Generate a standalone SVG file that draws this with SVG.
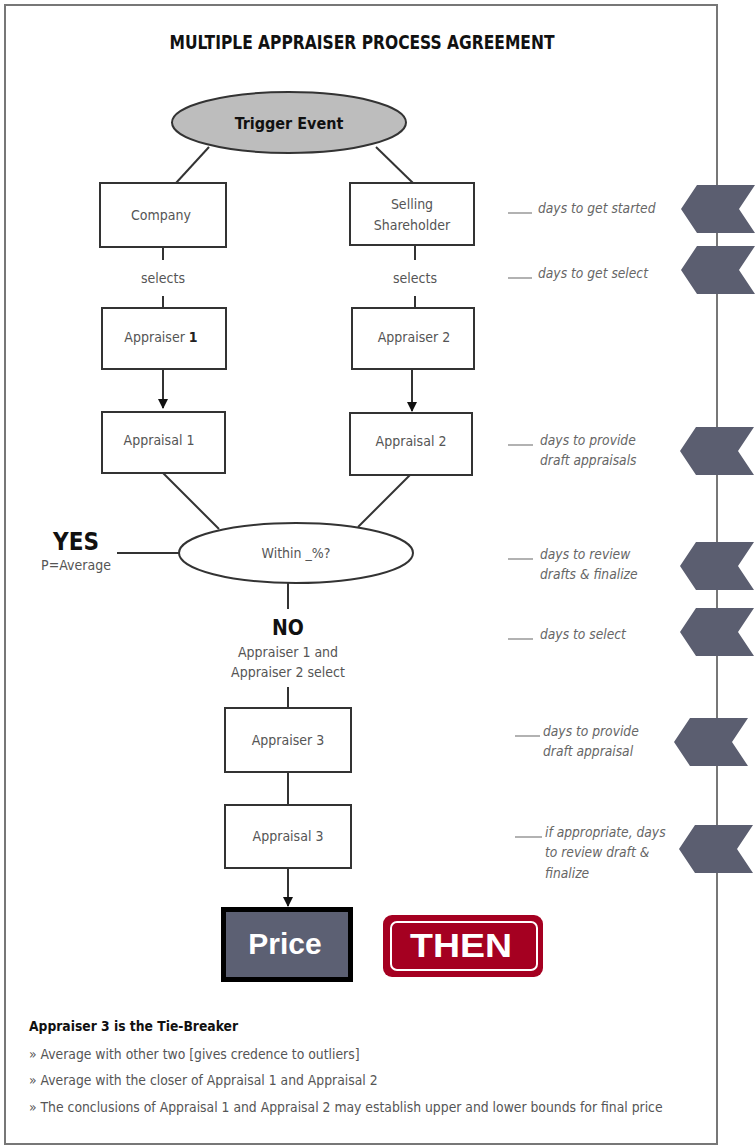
<svg xmlns="http://www.w3.org/2000/svg" width="755" height="1146" viewBox="0 0 755 1146">
<style>
.t{font-family:"Liberation Sans Narrow","DejaVu Sans Condensed","Liberation Sans",Arial,sans-serif;}
.box{fill:#fff;stroke:#333;stroke-width:2;}
.lbl{font-size:14px;fill:#555;text-anchor:middle;dominant-baseline:central;}
.ln{stroke:#333;stroke-width:2;fill:none;}
.note{font-size:13.7px;fill:#666;font-style:italic;}
.us{stroke:#999;stroke-width:1.5;}
.bul{font-size:13.8px;fill:#555;}
.chev{fill:#5b5e70;}
</style>
<defs>
<marker id="ah" markerWidth="10" markerHeight="12" refX="9" refY="5" orient="auto" markerUnits="userSpaceOnUse">
<path d="M0,0 L10,5 L0,10 Z" fill="#111"/>
</marker>
<path id="chev" d="M16,-24 L74,-24 L58,0 L74,24 L16,24 L0,0 Z"/>
</defs>
<rect x="0" y="0" width="755" height="1146" fill="#fff"/>
<rect x="5" y="5" width="712" height="1139" fill="#fff" stroke="#777" stroke-width="2"/>
<text class="t" x="362" y="49" font-size="19" font-weight="bold" fill="#111" text-anchor="middle" textLength="385" lengthAdjust="spacingAndGlyphs">MULTIPLE APPRAISER PROCESS AGREEMENT</text>

<g id="connectors">
<line class="ln" x1="209" y1="147" x2="176" y2="183"/>
<line class="ln" x1="376" y1="147" x2="413" y2="183"/>
<line class="ln" x1="163" y1="247" x2="163" y2="260"/>
<line class="ln" x1="163" y1="296" x2="163" y2="308"/>
<line class="ln" x1="415" y1="245" x2="415" y2="260"/>
<line class="ln" x1="415" y1="296" x2="415" y2="308"/>
<line class="ln" x1="163" y1="369" x2="163" y2="408" marker-end="url(#ah)"/>
<line class="ln" x1="412" y1="369" x2="412" y2="411" marker-end="url(#ah)"/>
<line class="ln" x1="163" y1="473" x2="219" y2="529"/>
<line class="ln" x1="410" y1="475" x2="358" y2="527"/>
<line class="ln" x1="117" y1="553" x2="179" y2="553"/>
<line class="ln" x1="288" y1="583" x2="288" y2="609"/>
<line class="ln" x1="288" y1="687" x2="288" y2="708"/>
<line class="ln" x1="288" y1="772" x2="288" y2="805"/>
<line class="ln" x1="288" y1="868" x2="288" y2="906" marker-end="url(#ah)"/>
</g>

<g id="trigger">
<ellipse cx="289" cy="122.5" rx="117" ry="30.5" fill="#bdbdbd" stroke="#333" stroke-width="2"/>
<text class="t" x="289" y="123" font-size="16" font-weight="bold" fill="#111" text-anchor="middle" dominant-baseline="central">Trigger Event</text>
</g>
<g id="company">
<rect class="box" x="100" y="183" width="126" height="64"/>
<text class="t lbl" x="161" y="215">Company</text>
</g>
<g id="shareholder">
<rect class="box" x="350" y="183" width="124" height="62"/>
<text class="t lbl" x="412" y="204">Selling</text>
<text class="t lbl" x="412" y="225">Shareholder</text>
</g>
<g id="selects1"><text class="t lbl" x="163" y="278">selects</text></g>
<g id="selects2"><text class="t lbl" x="415" y="278">selects</text></g>
<g id="appraiser1">
<rect class="box" x="102" y="308" width="124" height="61"/>
<text class="t lbl" x="161" y="337">Appraiser <tspan font-weight="bold" fill="#222">1</tspan></text>
</g>
<g id="appraiser2">
<rect class="box" x="352" y="308" width="122" height="61"/>
<text class="t lbl" x="414" y="337">Appraiser 2</text>
</g>
<g id="appraisal1">
<rect class="box" x="102" y="412" width="123" height="61"/>
<text class="t lbl" x="159" y="440">Appraisal 1</text>
</g>
<g id="appraisal2">
<rect class="box" x="350" y="413" width="122" height="62"/>
<text class="t lbl" x="411" y="441">Appraisal 2</text>
</g>
<g id="within">
<ellipse cx="296" cy="553" rx="117" ry="30" fill="#fff" stroke="#333" stroke-width="2"/>
<text class="t lbl" x="296" y="553">Within _%?</text>
</g>
<g id="yes">
<text class="t" x="76" y="550" font-size="24" font-weight="bold" fill="#111" text-anchor="middle">YES</text>
<text class="t" x="76" y="570" font-size="14" fill="#555" text-anchor="middle">P=Average</text>
</g>
<g id="no">
<text class="t" x="288" y="635" font-size="21" font-weight="bold" fill="#111" text-anchor="middle">NO</text>
<text class="t lbl" x="288" y="652">Appraiser 1 and</text>
<text class="t lbl" x="288" y="672">Appraiser 2 select</text>
</g>
<g id="appraiser3">
<rect class="box" x="225" y="708" width="126" height="64"/>
<text class="t lbl" x="288" y="740">Appraiser 3</text>
</g>
<g id="appraisal3">
<rect class="box" x="225" y="805" width="126" height="63"/>
<text class="t lbl" x="288" y="836">Appraisal 3</text>
</g>
<g id="price">
<rect x="223.5" y="909.5" width="127" height="70" fill="#5c6073" stroke="#000" stroke-width="5"/>
<text x="285" y="954" font-family="Liberation Sans,Arial,sans-serif" font-size="30" font-weight="bold" fill="#fff" text-anchor="middle">Price</text>
</g>
<g id="then">
<rect x="383" y="915" width="160" height="62" rx="9" fill="#a50021"/>
<rect x="391" y="922" width="146" height="48" rx="6" fill="none" stroke="#fff" stroke-width="2"/>
<text x="461" y="957" font-family="Liberation Sans,Arial,sans-serif" font-size="34" font-weight="bold" fill="#fff" text-anchor="middle" textLength="102" lengthAdjust="spacingAndGlyphs">THEN</text>
</g>

<g id="timeline">
<use href="#chev" class="chev" x="681" y="209"/>
<use href="#chev" class="chev" x="681" y="270"/>
<use href="#chev" class="chev" x="680" y="451"/>
<use href="#chev" class="chev" x="680" y="566"/>
<use href="#chev" class="chev" x="680" y="632"/>
<use href="#chev" class="chev" x="674" y="742"/>
<use href="#chev" class="chev" x="679" y="849"/>
</g>

<g id="notes">
<line class="us" x1="508" y1="213" x2="532" y2="213"/>
<text class="t note" x="538" y="213">days to get started</text>
<line class="us" x1="508" y1="278" x2="532" y2="278"/>
<text class="t note" x="538" y="278">days to get select</text>
<line class="us" x1="508" y1="445" x2="533" y2="445"/>
<text class="t note" x="540" y="445">days to provide</text>
<text class="t note" x="540" y="465">draft appraisals</text>
<line class="us" x1="508" y1="559" x2="533" y2="559"/>
<text class="t note" x="540" y="559">days to review</text>
<text class="t note" x="540" y="579">drafts &amp; finalize</text>
<line class="us" x1="508" y1="639" x2="533" y2="639"/>
<text class="t note" x="540" y="639">days to select</text>
<line class="us" x1="515" y1="736" x2="540" y2="736"/>
<text class="t note" x="543" y="736">days to provide</text>
<text class="t note" x="543" y="756">draft appraisal</text>
<line class="us" x1="515" y1="837" x2="542" y2="837"/>
<text class="t note" x="545" y="837">if appropriate, days</text>
<text class="t note" x="545" y="857">to review draft &amp;</text>
<text class="t note" x="545" y="878">finalize</text>
</g>

<g id="footer">
<text class="t" x="29" y="1031" font-size="14" font-weight="bold" fill="#111" textLength="209" lengthAdjust="spacingAndGlyphs">Appraiser 3 is the Tie-Breaker</text>
<text class="t bul" x="29" y="1059">» Average with other two [gives credence to outliers]</text>
<text class="t bul" x="29" y="1085">» Average with the closer of Appraisal 1 and Appraisal 2</text>
<text class="t bul" x="29" y="1112">» The conclusions of Appraisal 1 and Appraisal 2 may establish upper and lower bounds for final price</text>
</g>
</svg>
